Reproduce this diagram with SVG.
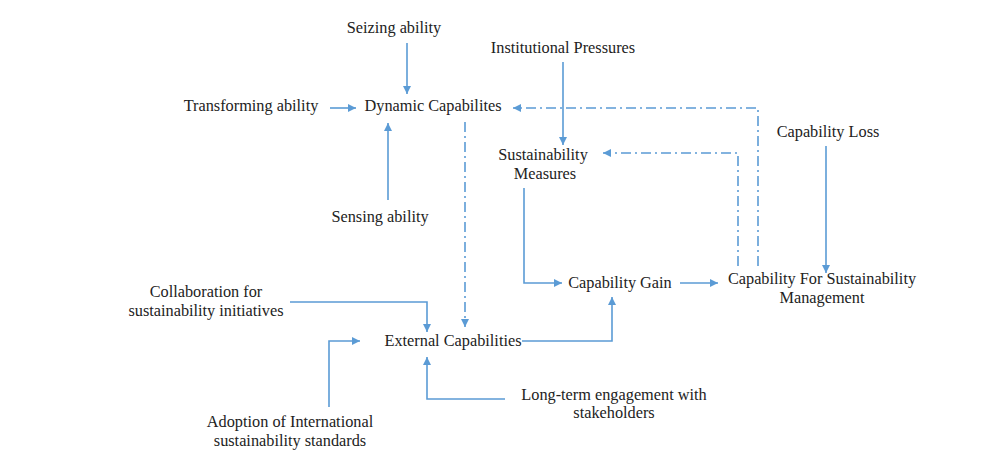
<svg xmlns="http://www.w3.org/2000/svg" width="985" height="470" viewBox="0 0 985 470">
<style>
text{font-family:"Liberation Serif",serif;font-size:16.3px;fill:#222;text-anchor:middle}
.c{fill:none;stroke:#5B9BD5;stroke-width:1.6}
.d{stroke-dasharray:10,4,2,4}
</style>
<defs>
<marker id="a" viewBox="0 0 10 10" refX="10" refY="5" markerWidth="8" markerHeight="8" markerUnits="userSpaceOnUse" orient="auto">
<path d="M0,0L10,5L0,10z" fill="#5B9BD5"/>
</marker>
</defs>
<rect width="985" height="470" fill="#fff"/>
<g id="connectors">
<path class="c" d="M407,43V94" marker-end="url(#a)"/>
<path class="c" d="M330,108H356" marker-end="url(#a)"/>
<path class="c" d="M388,200V123" marker-end="url(#a)"/>
<path class="c d" d="M465,122V327" marker-end="url(#a)"/>
<path class="c" d="M563,62V145" marker-end="url(#a)"/>
<path class="c d" d="M758,266V108H513" marker-end="url(#a)"/>
<path class="c d" d="M738,266V153H603" marker-end="url(#a)"/>
<path class="c" d="M524,188V283H562" marker-end="url(#a)"/>
<path class="c" d="M680,283H718" marker-end="url(#a)"/>
<path class="c" d="M826,146V273" marker-end="url(#a)"/>
<path class="c" d="M290,302H427V332" marker-end="url(#a)"/>
<path class="c" d="M522,341H612V297" marker-end="url(#a)"/>
<path class="c" d="M329,407V341H360" marker-end="url(#a)"/>
<path class="c" d="M505,399H427V357" marker-end="url(#a)"/>
</g>
<g id="seizing"><text x="394" y="33">Seizing ability</text></g>
<g id="transforming"><text x="251" y="111">Transforming ability</text></g>
<g id="dynamic"><text x="433" y="111">Dynamic Capabilites</text></g>
<g id="sensing"><text x="380" y="222">Sensing ability</text></g>
<g id="institutional"><text x="563" y="53">Institutional Pressures</text></g>
<g id="measures"><text x="543" y="160">Sustainability</text><text x="545" y="179">Measures</text></g>
<g id="gain"><text x="620" y="288">Capability Gain</text></g>
<g id="cfsm"><text x="822" y="284">Capability For Sustainability</text><text x="822" y="303">Management</text></g>
<g id="loss"><text x="828" y="137">Capability Loss</text></g>
<g id="collaboration"><text x="206" y="297">Collaboration for</text><text x="206" y="316">sustainability initiatives</text></g>
<g id="external"><text x="453" y="346">External Capabilities</text></g>
<g id="adoption"><text x="290" y="427">Adoption of International</text><text x="290" y="446">sustainability standards</text></g>
<g id="longterm"><text x="614" y="400">Long-term engagement with</text><text x="614" y="418">stakeholders</text></g>
</svg>
